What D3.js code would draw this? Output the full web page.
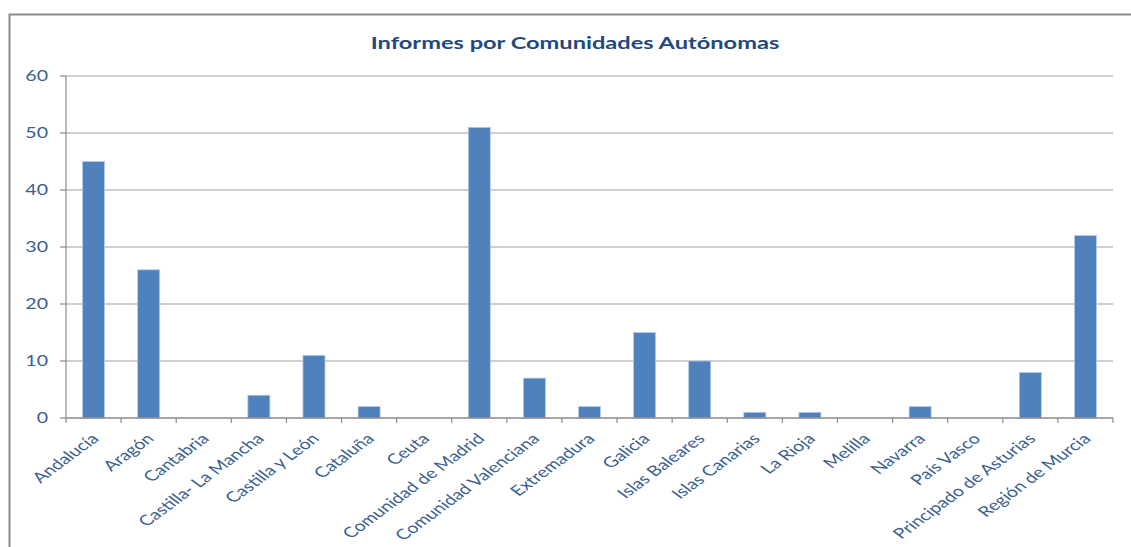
<!DOCTYPE html>
<html>
<head>
<meta charset="utf-8">
<script src="https://cdn.jsdelivr.net/npm/d3@7"></script>
<style>
  body { margin: 0; background: #fff; }
  text { font-family: Lato, "Open Sans", sans-serif; }
</style>
</head>
<body>
<svg id="chart" width="1131" height="547"></svg>
<script>
// data
var categories = ["Andalucía", "Aragón", "Cantabria", "Castilla- La Mancha", "Castilla y León",
    "Cataluña", "Ceuta", "Comunidad de Madrid", "Comunidad Valenciana", "Extremadura",
    "Galicia", "Islas Baleares", "Islas Canarias", "La Rioja", "Melilla", "Navarra",
    "País Vasco", "Principado de Asturias", "Región de Murcia"];
var informes = [45, 26, 0, 4, 11, 2, 0, 51, 7, 2, 15, 10, 1, 1, 0, 2, 0, 8, 32];
var yTicks = [0, 10, 20, 30, 40, 50, 60];
var title = "Informes por Comunidades Autónomas";

var svg = d3.select("#chart"),
    stretch = 1.35, // the original picture is squashed wider than it is tall
    plotLeft = 66, plotRight = 1113, plotTop = 76, plotBottom = 418;

var x = d3.scaleBand()
    .domain(categories)
    .range([plotLeft, plotRight])
    .paddingInner(0.6)
    .paddingOuter(0.3);
var y = d3.scaleLinear().domain([0, 60]).range([plotBottom, plotTop]);

// chart area border (runs off right/bottom edge)
svg.append("rect")
    .attr("x", 9.5).attr("y", 14.5)
    .attr("width", 1300).attr("height", 700)
    .attr("fill", "none")
    .attr("stroke", "#8a8a8a")
    .attr("stroke-width", 2);

// title
svg.append("text")
    .attr("transform", "translate(575,49) scale(" + stretch + ",1)")
    .attr("text-anchor", "middle")
    .attr("font-size", 17.5)
    .attr("font-weight", "bold")
    .attr("fill", "#1F497D")
    .text(title);

// gridlines
svg.append("g").selectAll("line")
    .data(yTicks.filter(function (d) { return d > 0; }))
    .enter().append("line")
    .attr("x1", plotLeft).attr("x2", plotRight)
    .attr("y1", function (d) { return y(d); })
    .attr("y2", function (d) { return y(d); })
    .attr("stroke", "#bfbfbf")
    .attr("stroke-width", 1.5);

// bars
svg.append("g").selectAll("rect")
    .data(informes)
    .enter().append("rect")
    .attr("x", function (d, i) { return x(categories[i]); })
    .attr("width", x.bandwidth())
    .attr("y", function (d) { return y(d); })
    .attr("height", function (d) { return y(0) - y(d); })
    .attr("fill", "#4F81BD")
    .attr("stroke", "#b9cde5")
    .attr("stroke-width", 0.8);

// y axis
var yAxis = svg.append("g");
yAxis.append("line")
    .attr("x1", plotLeft).attr("x2", plotLeft)
    .attr("y1", plotTop).attr("y2", plotBottom)
    .attr("stroke", "#8a8a8a").attr("stroke-width", 1.2);
yAxis.selectAll(".tick")
    .data(yTicks)
    .enter().append("line")
    .attr("x1", plotLeft - 6).attr("x2", plotLeft)
    .attr("y1", function (d) { return y(d); })
    .attr("y2", function (d) { return y(d); })
    .attr("stroke", "#8a8a8a").attr("stroke-width", 1.2);
yAxis.selectAll("text")
    .data(yTicks)
    .enter().append("text")
    .attr("transform", function (d) { return "translate(48," + y(d) + ") scale(" + stretch + ",1)"; })
    .attr("text-anchor", "end")
    .attr("dy", "0.35em")
    .attr("font-size", 14.5)
    .attr("fill", "#3A5F92")
    .text(function (d) { return d; });

// x axis
var step = x.step();
var xAxis = svg.append("g");
xAxis.append("line")
    .attr("x1", plotLeft).attr("x2", plotRight)
    .attr("y1", plotBottom).attr("y2", plotBottom)
    .attr("stroke", "#8a8a8a").attr("stroke-width", 1.5);
xAxis.selectAll(".tick")
    .data(d3.range(categories.length + 1))
    .enter().append("line")
    .attr("x1", function (i) { return plotLeft + i * step; })
    .attr("x2", function (i) { return plotLeft + i * step; })
    .attr("y1", plotBottom).attr("y2", plotBottom + 5)
    .attr("stroke", "#8a8a8a").attr("stroke-width", 1.2);
xAxis.selectAll("text")
    .data(categories)
    .enter().append("text")
    .attr("transform", function (d) {
        var cx = x(d) + x.bandwidth() / 2 + 1.5;
        return "translate(" + cx + ",436) scale(" + stretch + ",1) rotate(-45)";
    })
    .attr("text-anchor", "end")
    .attr("dy", "0.35em")
    .attr("font-size", 14.5)
    .attr("fill", "#3A5F92")
    .text(function (d) { return d; });
</script>
</body>
</html>
